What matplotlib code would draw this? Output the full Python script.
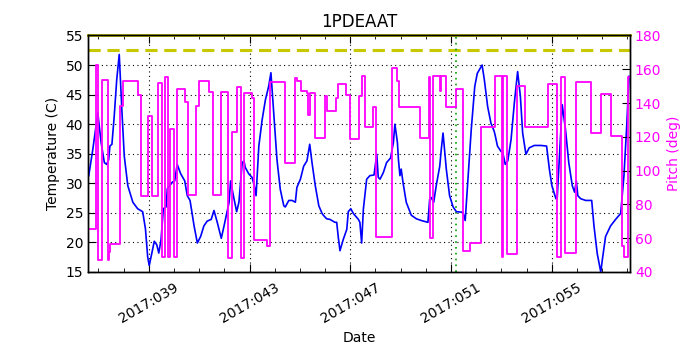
import matplotlib
matplotlib.use("Agg")
import matplotlib.pyplot as plt
from matplotlib.ticker import MultipleLocator, FixedLocator, FuncFormatter

# Temperature (C) vs day-of-year 2017
temp_days = [36.62, 36.78, 36.98, 37.11, 37.24, 37.33, 37.41, 37.46, 37.54, 37.63, 37.73, 37.83,
             37.94, 38.03, 38.17, 38.37, 38.56, 38.76, 38.87, 38.96, 39.02, 39.12, 39.22, 39.32,
             39.40, 39.49, 39.58, 39.69, 39.74, 39.94, 40.03, 40.13, 40.27, 40.43, 40.53, 40.64,
             40.80, 40.93, 41.06, 41.19, 41.32, 41.48, 41.59, 41.72, 41.88, 41.99, 42.19, 42.25,
             42.36, 42.49, 42.58, 42.71, 42.78, 42.83, 42.97, 43.10, 43.19, 43.26, 43.37, 43.50,
             43.63, 43.76, 43.85, 43.96, 44.09, 44.22, 44.36, 44.42, 44.56, 44.69, 44.82, 44.88,
             45.02, 45.15, 45.28, 45.39, 45.48, 45.61, 45.75, 45.88, 45.93, 46.06, 46.19, 46.39,
             46.46, 46.52, 46.59, 46.72, 46.86, 46.92, 47.02, 47.12, 47.32, 47.38, 47.45, 47.52,
             47.65, 47.78, 47.94, 48.05, 48.11, 48.18, 48.31, 48.44, 48.60, 48.71, 48.77, 48.87,
             48.91, 48.97, 49.02, 49.09, 49.22, 49.42, 49.62, 49.82, 50.08, 50.15, 50.21, 50.31,
             50.41, 50.55, 50.61, 50.68, 50.81, 50.94, 51.08, 51.21, 51.47, 51.56, 51.67, 51.80,
             51.94, 52.04, 52.12, 52.23, 52.32, 52.45, 52.58, 52.71, 52.75, 52.84, 52.98, 53.05,
             53.15, 53.25, 53.38, 53.51, 53.64, 53.75, 53.84, 53.97, 54.10, 54.30, 54.57, 54.79,
             54.90, 55.00, 55.16, 55.21, 55.32, 55.41, 55.54, 55.67, 55.81, 55.90, 55.97, 56.03,
             56.14, 56.34, 56.58, 56.67, 56.80, 56.94, 57.00, 57.13, 57.33, 57.53, 57.73, 57.86,
             57.97, 58.06]
temp_vals = [31.3, 35.7, 41.9, 36.9, 33.5, 33.2, 34.0, 36.3, 36.6, 41.3, 47.5, 51.8,
             41.9, 34.6, 29.6, 26.8, 25.7, 25.2, 22.3, 17.5, 16.1, 18.1, 20.2, 19.6,
             18.2, 20.5, 25.7, 26.0, 29.1, 30.2, 30.4, 33.2, 31.6, 30.4, 27.9, 27.1,
             22.8, 19.9, 21.0, 22.8, 23.6, 23.9, 25.4, 23.4, 20.7, 22.8, 26.8, 30.4,
             27.9, 25.2, 26.8, 33.5, 33.8, 32.7, 31.6, 31.0, 29.6, 27.9, 36.3, 40.7,
             44.1, 46.4, 48.7, 41.9, 34.0, 29.0, 26.2, 26.0, 27.1, 27.1, 26.8, 29.3,
             30.7, 32.9, 33.8, 36.6, 33.5, 29.6, 26.2, 24.9, 24.6, 24.0, 23.9, 23.4,
             23.4, 21.0, 18.6, 20.5, 22.2, 25.2, 25.7, 24.9, 23.9, 23.4, 19.9, 25.7,
             30.7, 31.3, 31.4, 34.9, 31.0, 30.7, 31.8, 33.5, 34.3, 36.9, 40.0, 36.9,
             34.0, 31.3, 32.4, 30.2, 26.8, 24.6, 24.0, 23.7, 23.4, 27.3, 27.6, 26.8,
             29.6, 32.9, 35.7, 38.5, 32.4, 27.9, 26.0, 25.2, 25.1, 23.7, 30.7, 39.1,
             46.4, 48.6, 49.2, 50.0, 47.5, 43.0, 40.2, 38.8, 38.1, 36.3, 35.4, 35.2,
             33.2, 33.8, 37.4, 43.6, 48.9, 44.7, 38.5, 34.9, 36.0, 36.4, 36.4, 36.3,
             32.4, 29.6, 27.4, 27.4, 36.3, 43.3, 39.1, 33.5, 29.6, 28.5, 30.4, 27.9,
             27.4, 27.1, 27.1, 22.8, 18.1, 15.0, 17.0, 21.0, 22.8, 23.9, 24.9, 31.3,
             39.7, 48.1]

# Pitch (deg) step changes
pitch_days = [36.59, 36.91, 36.97, 37.00, 37.13, 37.37, 37.41, 37.46, 37.86, 37.99, 38.59, 38.69,
              38.98, 39.12, 39.36, 39.52, 39.65, 39.78, 39.85, 40.02, 40.13, 40.44, 40.57, 40.88,
              41.00, 41.40, 41.56, 41.87, 42.16, 42.32, 42.49, 42.65, 42.77, 43.10, 43.19, 43.69,
              43.83, 44.40, 44.82, 44.88, 45.06, 45.28, 45.32, 45.39, 45.59, 46.00, 46.09, 46.43,
              46.52, 46.83, 46.99, 47.36, 47.45, 47.58, 47.91, 48.01, 48.64, 48.84, 48.94, 49.75,
              50.12, 50.17, 50.29, 50.56, 50.60, 50.80, 51.21, 51.47, 51.74, 52.19, 52.75, 53.02,
              53.07, 53.21, 53.60, 53.94, 54.83, 55.21, 55.35, 55.51, 55.94, 56.56, 56.94, 57.36,
              57.79, 57.86, 58.02, 58.10]
pitch_vals = [65.5, 162.6, 155.7, 47.1, 153.7, 47.1, 52.0, 56.7, 138.3, 152.8, 144.9, 85.2,
              132.4, 85.2, 151.8, 49.1, 155.7, 49.1, 124.5, 49.1, 148.2, 140.9, 85.6, 138.3,
              153.3, 146.8, 85.6, 146.4, 48.1, 123.0, 149.8, 48.1, 145.8, 142.8, 59.0, 55.4,
              152.2, 104.4, 155.1, 152.8, 147.4, 145.8, 132.8, 145.8, 119.3, 143.9, 135.4, 142.8,
              151.2, 144.9, 118.8, 143.9, 156.1, 126.1, 137.5, 61.0, 160.7, 152.8, 137.5, 119.2,
              155.3, 60.0, 156.1, 147.0, 156.1, 137.5, 148.2, 52.6, 57.4, 126.1, 156.1, 49.1,
              156.1, 50.7, 150.2, 126.1, 151.2, 49.1, 155.7, 51.5, 152.2, 122.5, 145.2, 120.6,
              55.4, 48.7, 155.7, 155.7]

planning_limit = 52.5
event_day = 51.19
major_ticks = [39, 43, 47, 51, 55]

fig = plt.figure(figsize=(7, 3.5), dpi=100)
ax = fig.add_axes([0.1257, 0.2229, 0.7743, 0.6757])
ax2 = ax.twinx()

ax.plot(temp_days, temp_vals, color='#0000ff', lw=1.2, zorder=3)
ax.axhline(planning_limit, color='#c8c800', lw=2.2, ls=(0, (4, 2.2)), zorder=2)
ax.axhline(55, color='#c8c800', lw=2.0, zorder=2, clip_on=False)
ax.axvline(event_day, color='#00a000', lw=1.2, ls=(0, (1, 2.5)), zorder=2)

ax2.plot(pitch_days, pitch_vals, color='#ff00ff', lw=1.3, drawstyle='steps-post')

ax.set_xlim(36.59, 58.10)
ax.set_ylim(15, 55)
ax2.set_ylim(40, 180)

ax.xaxis.set_major_locator(FixedLocator(major_ticks))
ax.xaxis.set_minor_locator(MultipleLocator(1))
ax.xaxis.set_major_formatter(FuncFormatter(lambda v, p: "2017:%03d" % int(round(v))))
ax.yaxis.set_major_locator(MultipleLocator(5))
ax2.yaxis.set_major_locator(MultipleLocator(20))

ax.tick_params(axis='both', which='both', direction='in', top=True, labelsize=10)
ax.tick_params(axis='x', which='major', length=6, pad=6)
ax.tick_params(axis='x', which='minor', length=3)
ax.tick_params(axis='y', length=6)
ax2.tick_params(axis='y', direction='in', length=6, labelsize=10, labelcolor='#ff00ff')
for lbl in ax.get_xticklabels():
    lbl.set_rotation(30)
    lbl.set_ha('center')

ax.grid(True, which='major', color='black', ls=(0, (1, 3)), lw=0.8)

ax.set_xlabel('Date', fontsize=10)
ax.set_ylabel('Temperature (C)', fontsize=10)
ax2.set_ylabel('Pitch (deg)', fontsize=10, color='#ff00ff')
ax.set_title('1PDEAAT', fontsize=12)

for a in (ax, ax2):
    for s in a.spines.values():
        s.set_linewidth(1.0)
        s.set_color('black')

fig.savefig('out.png', dpi=100)
